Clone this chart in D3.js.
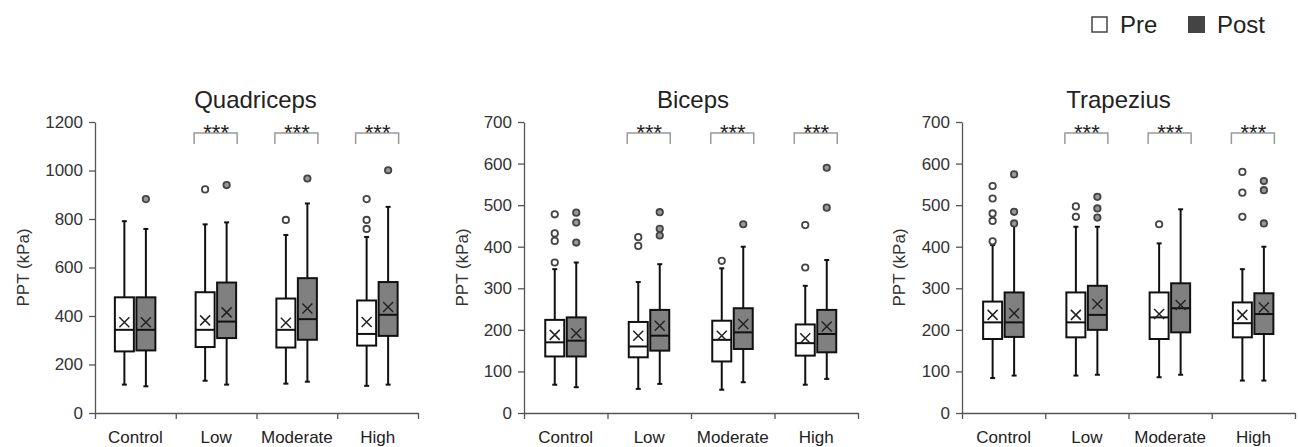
<!DOCTYPE html>
<html>
<head>
<meta charset="utf-8">
<script src="https://cdn.jsdelivr.net/npm/d3@7"></script>
<style>
  body { margin: 0; background: #fff; }
  text { font-family: "Liberation Sans", Arial, sans-serif; }
</style>
</head>
<body>
<div id="chart"></div>
<script>
// data: [whisker low, q1, median, q3, whisker high, mean]
var categories = ["Control", "Low", "Moderate", "High"];
var muscles = ["Quadriceps", "Biceps", "Trapezius"];
var yMax = [1200, 700, 700];
var yStep = [200, 100, 100];
var sigGroups = ["Low", "Moderate", "High"];

var quadPre = [[117, 254, 343, 477, 791, 374], [133, 272, 343, 498, 778, 382], [121, 270, 343, 472, 734, 372], [112, 278, 326, 464, 726, 375]];
var quadPost = [[110, 258, 343, 477, 759, 374], [117, 309, 377, 538, 786, 415], [129, 302, 387, 556, 864, 431], [117, 318, 405, 540, 850, 437]];
var quadPreOut = [[], [922], [796], [882, 796, 759]];
var quadPostOut = [[882], [940], [967], [1001]];

var bicPre = [[68, 136, 170, 224, 346, 188], [58, 134, 160, 219, 315, 186], [56, 124, 176, 222, 348, 186], [68, 138, 168, 213, 306, 180]];
var bicPost = [[62, 136, 174, 230, 362, 192], [70, 150, 186, 248, 358, 210], [74, 154, 194, 252, 400, 214], [82, 146, 190, 248, 368, 208]];
var bicPreOut = [[478, 432, 414, 362], [423, 402], [366], [452, 350]];
var bicPostOut = [[482, 458, 410], [483, 443, 427], [454], [590, 494]];

var trapPre = [[84, 178, 218, 268, 404, 236], [90, 182, 218, 290, 448, 236], [86, 178, 230, 290, 408, 238], [78, 182, 216, 266, 346, 236]];
var trapPost = [[90, 183, 218, 290, 452, 240], [92, 200, 236, 306, 448, 262], [92, 194, 252, 312, 490, 260], [78, 190, 238, 288, 400, 254]];
var trapPreOut = [[546, 516, 480, 462, 413], [497, 472], [454], [580, 530, 472]];
var trapPostOut = [[574, 484, 456], [520, 492, 470], [], [558, 536, 456]];

var preStats = [quadPre, bicPre, trapPre];
var postStats = [quadPost, bicPost, trapPost];
var preOut = [quadPreOut, bicPreOut, trapPreOut];
var postOut = [quadPostOut, bicPostOut, trapPostOut];

var W = 1299, H = 447;
var panelX = [[95, 418], [524, 858], [962, 1295]];
var plotTop = 122, plotBottom = 413;
var labelOff = [72, 62, 63];
var titleShift = [-1, 2, -10];
var boxW = 19;
var postFill = "#808080";

var svg = d3.select("#chart").append("svg")
    .attr("width", W)
    .attr("height", H);

muscles.forEach(function(m, p) {
    var x0 = panelX[p][0], x1 = panelX[p][1];

    var x = d3.scaleBand().domain(categories).range([x0, x1]);
    var xEdge = d3.scaleLinear().domain([0, categories.length]).range([x0, x1]);
    var y = d3.scaleLinear().domain([0, yMax[p]]).range([plotBottom, plotTop]);

    var g = svg.append("g");

    // y axis
    var yAxis = g.append("g")
        .attr("transform", "translate(" + x0 + ",0)")
        .call(d3.axisLeft(y).tickValues(d3.range(0, yMax[p] + 1, yStep[p]))
            .tickFormat(d3.format("d")).tickSize(6).tickPadding(6).tickSizeOuter(0));
    yAxis.selectAll("text").attr("font-size", 17).attr("fill", "#333").style("font-family", "Liberation Sans, Arial, sans-serif");

    // x axis: edge ticks + category labels
    g.append("g")
        .attr("transform", "translate(0," + plotBottom + ")")
        .call(d3.axisBottom(xEdge).ticks(4).tickFormat("").tickSize(6).tickSizeOuter(0));
    var xLab = g.append("g")
        .attr("transform", "translate(0," + plotBottom + ")")
        .call(d3.axisBottom(x).tickSize(0).tickPadding(18));
    xLab.select(".domain").remove();
    xLab.selectAll("text").attr("font-size", 17).attr("fill", "#222").style("font-family", "Liberation Sans, Arial, sans-serif");

    g.selectAll(".domain, .tick line").attr("stroke", "#555").attr("stroke-width", 1.3);

    // title + y label
    g.append("text")
        .attr("x", (x0 + x1) / 2 + titleShift[p])
        .attr("y", 108)
        .attr("text-anchor", "middle")
        .attr("font-size", 24)
        .attr("fill", "#222")
        .text(m);

    g.append("text")
        .attr("transform", "translate(" + (x0 - labelOff[p]) + "," + ((plotTop + plotBottom) / 2) + ") rotate(-90)")
        .attr("text-anchor", "middle")
        .attr("dy", "0.35em")
        .attr("font-size", 17)
        .attr("fill", "#333")
        .text("PPT (kPa)");

    // boxes
    function drawBox(s, outs, cx, fill, outFill) {
        var b = g.append("g");
        b.append("line").attr("x1", cx).attr("x2", cx).attr("y1", y(s[0])).attr("y2", y(s[4]))
            .attr("stroke", "#111").attr("stroke-width", 2);
        [s[0], s[4]].forEach(function(v) {
            b.append("line").attr("x1", cx - 2.5).attr("x2", cx + 2.5).attr("y1", y(v)).attr("y2", y(v))
                .attr("stroke", "#111").attr("stroke-width", 2);
        });
        b.append("rect").attr("x", cx - boxW / 2).attr("width", boxW)
            .attr("y", y(s[3])).attr("height", y(s[1]) - y(s[3]))
            .attr("fill", fill).attr("stroke", "#111").attr("stroke-width", 2);
        b.append("line").attr("x1", cx - boxW / 2).attr("x2", cx + boxW / 2).attr("y1", y(s[2])).attr("y2", y(s[2]))
            .attr("stroke", "#111").attr("stroke-width", 2);
        var my = y(s[5]);
        b.append("path").attr("d", "M" + (cx - 5) + "," + (my - 5) + "L" + (cx + 5) + "," + (my + 5) +
            "M" + (cx - 5) + "," + (my + 5) + "L" + (cx + 5) + "," + (my - 5))
            .attr("stroke", "#222").attr("stroke-width", 1.5).attr("fill", "none");
        b.selectAll("circle").data(outs).enter().append("circle")
            .attr("cx", cx).attr("cy", function(d) { return y(d); }).attr("r", 3.2)
            .attr("fill", outFill).attr("stroke", "#444").attr("stroke-width", 1.8);
    }

    categories.forEach(function(c, i) {
        var gc = x(c) + x.bandwidth() / 2;
        drawBox(preStats[p][i], preOut[p][i], gc - 11, "#fff", "#fff");
        drawBox(postStats[p][i], postOut[p][i], gc + 10.5, postFill, "#999");
    });

    // significance brackets
    sigGroups.forEach(function(c) {
        var gc = x(c) + x.bandwidth() / 2;
        g.append("path")
            .attr("d", "M" + (gc - 22) + ",144V133H" + (gc + 21) + "V144")
            .attr("fill", "none").attr("stroke", "#999").attr("stroke-width", 1.5);
        g.append("text")
            .attr("x", gc).attr("y", 139.5)
            .attr("text-anchor", "middle")
            .attr("font-size", 22)
            .attr("fill", "#222")
            .text("***");
    });
});

// legend
var legend = svg.append("g");
legend.append("rect").attr("x", 1092).attr("y", 17).attr("width", 15).attr("height", 15)
    .attr("fill", "#fff").attr("stroke", "#444").attr("stroke-width", 1.5);
legend.append("text").attr("x", 1120).attr("y", 33).attr("font-size", 24).attr("fill", "#222").text("Pre");
legend.append("rect").attr("x", 1188).attr("y", 16).attr("width", 17).attr("height", 17)
    .attr("fill", "#444");
legend.append("text").attr("x", 1217).attr("y", 33).attr("font-size", 24).attr("fill", "#222").text("Post");
</script>
</body>
</html>
